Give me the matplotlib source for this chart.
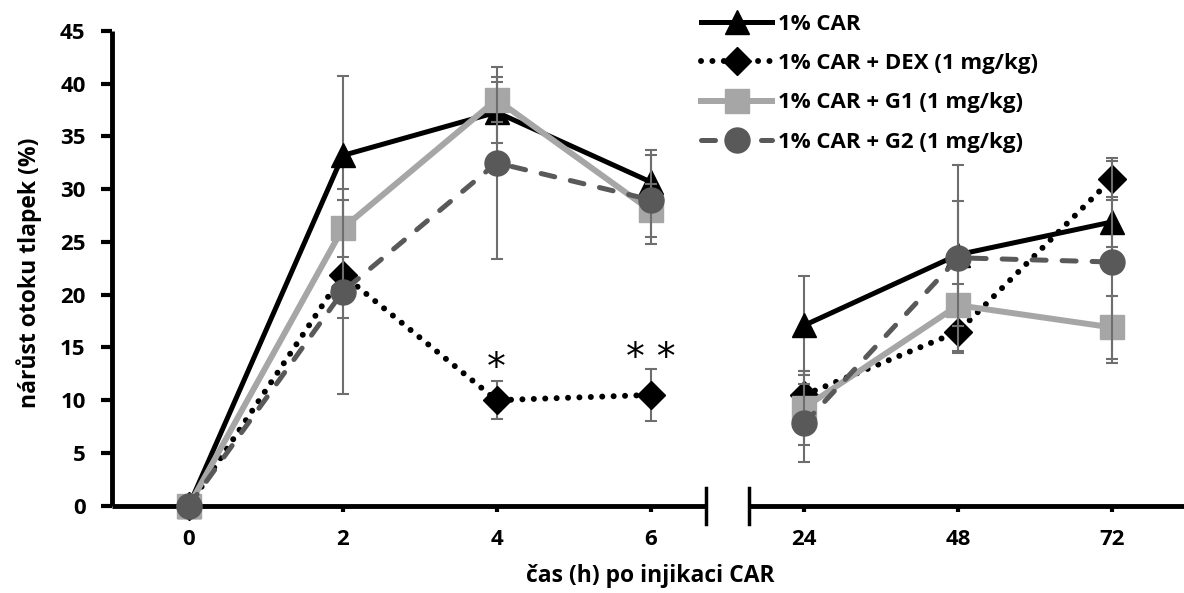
import numpy as np
import matplotlib
matplotlib.use("Agg")
import matplotlib.pyplot as plt
from matplotlib.lines import Line2D

plt.rcParams['font.family'] = ['Open Sans', 'DejaVu Sans']
plt.rcParams['font.weight'] = 'bold'

# data
hours = ["0", "2", "4", "6", "24", "48", "72"]
car = [0, 33.2, 37.3, 30.7, 17.1, 23.8, 26.9]
car_err = [0, 7.5, 2.9, 3.0, 4.7, 5.1, 2.4]
dex = [0, 21.9, 10.0, 10.5, 10.5, 16.5, 31.0]
dex_err = [0, 4.1, 1.8, 2.5, 2.3, 2.0, 2.0]
g1 = [0, 26.3, 38.5, 28.0, 9.3, 19.0, 16.9]
g1_err = [0, 2.7, 2.1, 2.5, 3.5, 2.0, 3.0]
g2 = [0, 20.3, 32.5, 29.0, 7.8, 23.5, 23.1]
g2_err = [0, 9.7, 9.1, 4.2, 3.7, 8.8, 9.6]
labels = ["1% CAR", "1% CAR + DEX (1 mg/kg)", "1% CAR + G1 (1 mg/kg)", "1% CAR + G2 (1 mg/kg)"]
sig_idx = [2, 3]
sig_text = ["*", "* *"]
sig_y = [13.0, 13.9]

pos = np.arange(len(hours))
early = slice(0, 4)
late = slice(4, 7)

fig = plt.figure(figsize=(11.84, 5.93), dpi=100)
ax = fig.add_axes([112 / 1184, 1 - 505.7 / 593, 1077 / 1184, 474.7 / 593])

styles = [
    dict(color='black', lw=3.6, ls='-', marker='^', ms=17, mfc='black', mec='black'),
    dict(color='black', lw=4.3, ls=(0, (0.01, 1.9)), marker='D', ms=14, mfc='black', mec='black',
         dash_capstyle='round'),
    dict(color='#a6a6a6', lw=4.3, ls='-', marker='s', ms=17, mfc='#a6a6a6', mec='#a6a6a6'),
    dict(color='#595959', lw=3.6, ls=(0, (2.8, 3.2)), marker='o', ms=18, mfc='#595959', mec='#595959',
         dash_capstyle='round'),
]
series = [(car, car_err), (dex, dex_err), (g1, g1_err), (g2, g2_err)]

handles = []
for k, ((vals, errs), st) in enumerate(zip(series, styles)):
    vals = np.array(vals)
    errs = np.array(errs)
    z = 3 + 2 * k
    has = errs > 0
    ax.errorbar(pos[has], vals[has], yerr=errs[has], fmt='none', ecolor='#6e6e6e',
                elinewidth=1.5, capsize=4.5, capthick=1.5, zorder=z)
    for seg in (early, late):
        ax.plot(pos[seg], vals[seg], zorder=z + 1, clip_on=False, **st)
    handles.append(Line2D([], [], **st))

for i, t, y in zip(sig_idx, sig_text, sig_y):
    ax.text(pos[i], y, t, ha='center', va='center', fontsize=27, fontweight='normal',
            family='DejaVu Sans', zorder=20)

ax.set_xlim(-0.5, 6.5)
ax.set_ylim(0, 45)
ax.set_yticks(np.arange(0, 46, 5))
ax.set_xticks(pos)
ax.set_xticklabels(hours)

for s in ['top', 'right', 'bottom']:
    ax.spines[s].set_visible(False)
ax.spines['left'].set_linewidth(3.5)
ax.spines['left'].set_capstyle('butt')
ax.tick_params(axis='y', length=8, width=3, pad=11, labelsize=16)
ax.tick_params(axis='x', length=4, width=3, pad=13, labelsize=16)
for lbl in ax.get_xticklabels() + ax.get_yticklabels():
    lbl.set_fontweight('bold')

# broken x axis
gap = (3.36, 3.64)
ax.plot([-0.5, gap[0]], [0, 0], color='black', lw=3.5, solid_capstyle='butt', clip_on=False, zorder=2)
ax.plot([gap[1], 6.5], [0, 0], color='black', lw=3.5, solid_capstyle='butt', clip_on=False, zorder=2)
for g in gap:
    ax.plot([g, g], [-1.7, 1.7], color='black', lw=2.5, clip_on=False, zorder=2)

ax.set_ylabel("nárůst otoku tlapek (%)", fontsize=16.5, fontweight='bold')
ax.yaxis.set_label_coords(-70 / 1077, 0.49)
ax.set_xlabel("čas (h) po injikaci CAR", fontsize=16.5, fontweight='bold')
ax.xaxis.set_label_coords(0.5, -58 / 474.7)

fig.legend(handles, labels, loc='upper left', bbox_to_anchor=(701 / 1184, 1 - 14 / 593),
           frameon=False, handlelength=3.2, handletextpad=0.25,
           labelspacing=0.82, borderpad=0, borderaxespad=0, prop={'weight': 'bold', 'size': 16})

fig.savefig("out.png", dpi=100)
